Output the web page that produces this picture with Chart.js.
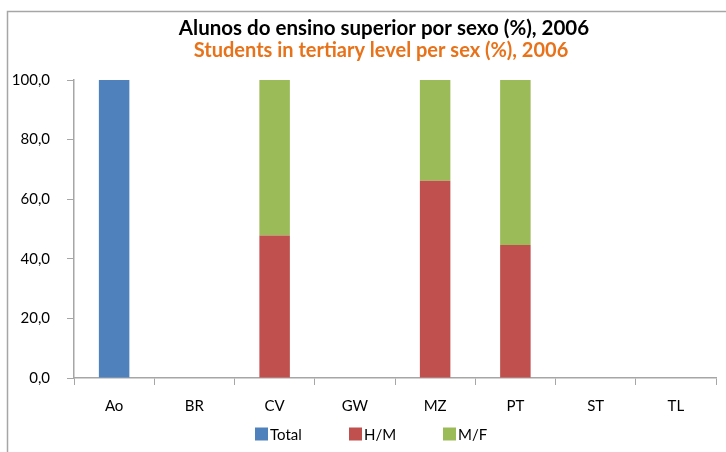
<!DOCTYPE html>
<html>
<head>
<meta charset="utf-8">
<script src="https://cdn.jsdelivr.net/npm/chart.js@4"></script>
<style>
  html, body { margin: 0; padding: 0; background: #fff; }
  #wrap { width: 726px; height: 452px; }
</style>
</head>
<body>
<div id="wrap"><canvas id="grafico" width="726" height="452"></canvas></div>
<script>
// categorias e valores (%)
const paises = ['Ao', 'BR', 'CV', 'GW', 'MZ', 'PT', 'ST', 'TL'];
const total = [100, null, null, null, null, null, null, null];
const homens = [null, null, 47.8, null, 66.2, 44.6, null, null];
const mulheres = [null, null, 52.2, null, 33.8, 55.4, null, null];
const marcasY = [0, 20, 40, 60, 80, 100];

const titulo = 'Alunos do ensino superior por sexo (%), 2006';
const subtitulo = 'Students in tertiary level per sex (%), 2006';

const CINZA = '#a6a6a6';
const FONTE = 'Lato, "Open Sans", sans-serif';

// moldura externa (só aparecem os lados esquerdo e superior)
const moldura = {
  id: 'moldura',
  beforeDraw(chart) {
    const c = chart.ctx;
    c.save();
    c.strokeStyle = CINZA;
    c.lineWidth = 1.5;
    c.beginPath();
    c.moveTo(7.5, chart.height + 5);
    c.lineTo(7.5, 11.5);
    c.lineTo(chart.width + 5, 11.5);
    c.stroke();
    c.restore();
  }
};

// título em duas linhas (português a preto, inglês a laranja)
const cabecalho = {
  id: 'cabecalho',
  afterDraw(chart) {
    const c = chart.ctx;
    c.save();
    c.textAlign = 'center';
    c.textBaseline = 'alphabetic';
    c.font = 'bold 20.5px ' + FONTE;
    c.fillStyle = '#000';
    c.fillText(titulo, 384, 35);
    c.font = 'bold 20px ' + FONTE;
    c.fillStyle = '#e8721a';
    c.fillText(subtitulo, 381, 57);
    c.restore();
  }
};

// legenda no rodapé, itens com largura fixa
const legenda = {
  id: 'legenda',
  afterDraw(chart) {
    const c = chart.ctx;
    const passo = 94;
    const x0 = 255;
    const y = 434;
    c.save();
    c.font = '15px ' + FONTE;
    c.textBaseline = 'middle';
    chart.data.datasets.forEach((ds, i) => {
      const x = x0 + i * passo;
      c.fillStyle = ds.backgroundColor;
      c.fillRect(x, y - 6.5, 13, 13);
      c.fillStyle = '#000';
      c.fillText(ds.label, x + 15, y + 1);
    });
    c.restore();
  }
};

new Chart(document.getElementById('grafico'), {
  type: 'bar',
  data: {
    labels: paises,
    datasets: [
      { label: 'Total', data: total, backgroundColor: '#4f81bd' },
      { label: 'H/M', data: homens, backgroundColor: '#c0504d' },
      { label: 'M/F', data: mulheres, backgroundColor: '#9bbb59' }
    ]
  },
  options: {
    responsive: false,
    animation: false,
    layout: { padding: { top: 80, right: 10, bottom: 0, left: 0 } },
    datasets: { bar: { categoryPercentage: 1, barPercentage: 0.38 } },
    plugins: {
      legend: { display: false },
      tooltip: { enabled: false }
    },
    scales: {
      x: {
        stacked: true,
        afterFit(scale) { scale.height = 74; },
        grid: { drawOnChartArea: false, color: CINZA, tickLength: 7, offset: true },
        border: { color: CINZA, width: 1.5 },
        ticks: { color: '#000', font: { family: FONTE, size: 15 }, padding: 12 }
      },
      y: {
        stacked: true,
        min: 0,
        max: 100,
        afterFit(scale) { scale.width = 74; },
        afterBuildTicks(scale) { scale.ticks = marcasY.map(v => ({ value: v })); },
        grid: { drawOnChartArea: false, color: CINZA, tickLength: 7 },
        border: { color: CINZA, width: 1.5 },
        ticks: {
          color: '#000',
          font: { family: FONTE, size: 15 },
          padding: 17,
          callback: v => v.toFixed(1).replace('.', ',')
        }
      }
    }
  },
  plugins: [moldura, cabecalho, legenda]
});
</script>
</body>
</html>
